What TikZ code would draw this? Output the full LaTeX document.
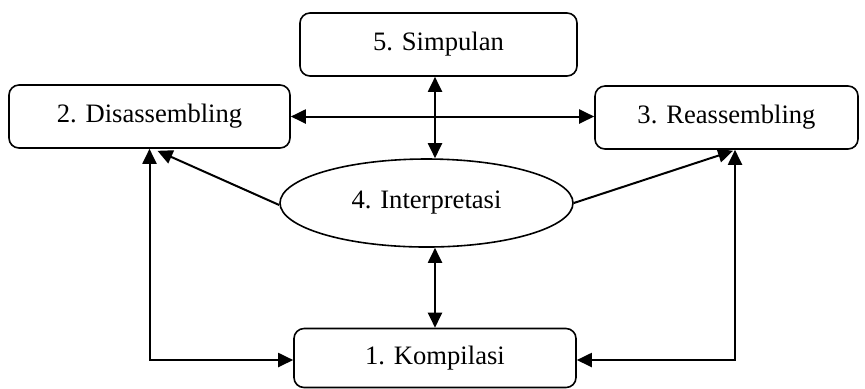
\documentclass[tikz,border=0pt]{standalone}
\usepackage{fontspec}
\setmainfont{Liberation Serif}
\usetikzlibrary{arrows.meta,shapes.geometric}
\begin{document}
\begin{tikzpicture}[x=0.5pt,y=-0.5pt,
  box/.style={draw,line width=0.8pt,rounded corners=5pt,minimum height=31.5pt,inner sep=0pt,font=\fontsize{13.3}{16}\selectfont},
  oval/.style={draw,line width=0.8pt,ellipse,minimum width=146.5pt,minimum height=44pt,inner sep=0pt,font=\fontsize{13.3}{16}\selectfont},
  arr/.style={line width=1pt,-{Triangle[length=7.5pt,width=7pt]}},
  arrs/.style={line width=1pt,{Triangle[length=7.5pt,width=7pt]}-{Triangle[length=7.5pt,width=7pt]}}]
\useasboundingbox(0,0)rectangle(865,388);
%boxes
\node[box,minimum width=138.5pt](simp)at(438.5,44.5){5. Simpulan};
\node[box,minimum width=140.5pt](dis)at(149.5,116.5){2. Disassembling};
\node[box,minimum width=131.5pt](reas)at(726.5,117.5){3. Reassembling};
\node[oval](interp)at(426.5,203){4. Interpretasi};
\node[box,minimum width=141pt,minimum height=29.5pt](komp)at(435,358){1. Kompilasi};
%helper points
\coordinate(dtip)at([xshift=4pt,yshift=-1pt]dis.south);
\coordinate(rtip)at([xshift=3.25pt,yshift=-0.5pt]reas.south);
\coordinate(rleg)at([xshift=4.25pt]reas.south);
\coordinate(kleft)at([yshift=-1pt]komp.west);
\coordinate(kright)at([yshift=-1pt]komp.east);
%arrows
\draw[arrs](simp.south-|komp.north)--(interp.north-|komp.north);
\draw[arrs](interp.south-|komp.north)--(komp.north);
\draw[arrs](dis.east)--(dis.east-|reas.west);
\draw[arr]([yshift=-1pt]interp.west)--(dtip);
\draw[arr](interp.east)--(rtip);
\draw[arrs](dis.south)|-(kleft);
\draw[arrs](rleg)|-(kright);
\end{tikzpicture}
\end{document}
